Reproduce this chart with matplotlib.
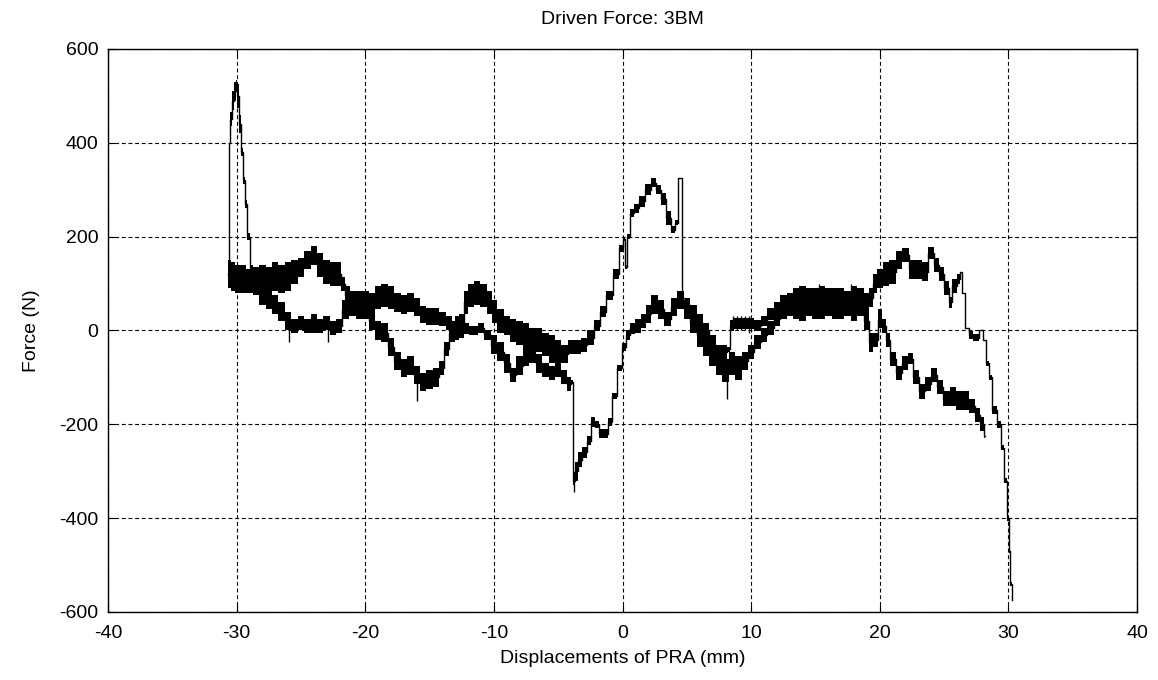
import numpy as np
import matplotlib
matplotlib.use("Agg")
import matplotlib.pyplot as plt

plt.rcParams['font.family'] = ['Liberation Sans', 'DejaVu Sans']
plt.rcParams['axes.unicode_minus'] = False

# displacement (mm), mean force (N), half spread of the noise band (N)
# pass that starts at the -30 mm spike and ends at the +30 mm plunge
upper_pass = [
    (-30.65, 120, 0), (-30.6, 250, 0), (-30.55, 400, 0), (-30.45, 450, 15),
    (-30.3, 490, 20), (-30.15, 510, 20), (-30.0, 522, 12), (-29.9, 500, 25),
    (-29.75, 440, 20), (-29.6, 380, 8), (-29.45, 320, 8), (-29.3, 270, 8),
    (-29.1, 200, 8), (-28.9, 125, 15), (-28.5, 110, 25), (-28.0, 110, 30),
    (-27.5, 105, 30), (-27.0, 115, 30), (-26.5, 110, 30), (-26.0, 115, 30),
    (-25.5, 125, 25), (-25.0, 135, 20), (-24.5, 150, 20), (-24.0, 160, 20),
    (-23.5, 140, 25), (-23.0, 125, 25), (-22.5, 120, 25), (-22.0, 120, 25),
    (-21.7, 100, 15), (-21.4, 75, 20), (-21.0, 60, 25), (-20.5, 55, 30),
    (-20.0, 60, 25), (-19.5, 60, 20), (-19.0, 70, 25), (-18.5, 75, 25),
    (-18.0, 70, 25), (-17.5, 60, 20), (-17.0, 55, 20), (-16.5, 60, 20),
    (-16.0, 50, 20), (-15.5, 35, 18), (-15.0, 30, 18), (-14.5, 30, 18),
    (-14.0, 25, 15), (-13.5, 15, 15), (-13.0, 0, 20), (-12.5, 10, 25),
    (-12.2, 60, 25), (-11.8, 75, 25), (-11.3, 80, 25), (-10.8, 75, 25),
    (-10.3, 60, 25), (-10.0, 40, 25), (-9.5, 20, 25), (-9.0, 10, 20),
    (-8.5, 0, 25), (-8.0, -5, 25), (-7.5, -10, 25), (-7.0, -15, 20),
    (-6.5, -20, 25), (-6.0, -30, 25), (-5.5, -40, 30), (-5.0, -45, 25),
    (-4.5, -50, 20), (-4.0, -35, 15), (-3.5, -35, 15), (-3.0, -30, 15),
    (-2.5, -15, 15), (-2.0, 10, 12), (-1.5, 40, 12), (-1.0, 75, 10),
    (-0.5, 120, 10), (-0.1, 175, 8), (0.1, 195, 5), (0.25, 135, 5),
    (0.45, 200, 5), (0.75, 250, 8), (1.0, 260, 10), (1.5, 275, 12),
    (2.0, 300, 12), (2.4, 315, 10), (2.8, 300, 10), (3.2, 280, 12),
    (3.6, 240, 15), (4.0, 215, 8), (4.2, 230, 5), (4.35, 325, 0),
    (4.6, 325, 0), (4.65, 70, 0), (5.0, 55, 15), (5.5, 35, 20),
    (6.0, 15, 20), (6.5, 0, 15), (7.0, -30, 20), (7.5, -50, 20),
    (8.0, -45, 15), (8.3, -40, 5), (8.4, 10, 12), (9.0, 15, 12),
    (9.5, 15, 12), (10.0, 15, 12), (10.5, 10, 12), (11.0, 20, 10),
    (11.5, 35, 12), (12.0, 45, 15), (12.5, 55, 20), (13.0, 55, 25),
    (13.5, 60, 30), (14.0, 65, 30), (14.5, 60, 30), (15.0, 55, 30),
    (15.5, 65, 30), (16.0, 60, 30), (16.5, 55, 30), (17.0, 60, 30),
    (17.5, 55, 25), (18.0, 65, 30), (18.5, 60, 30), (19.0, 55, 25),
    (19.3, 70, 20), (19.6, 100, 20), (20.0, 110, 20), (20.5, 120, 25),
    (21.0, 125, 25), (21.5, 150, 20), (22.0, 160, 15), (22.5, 130, 20),
    (23.0, 130, 20), (23.5, 125, 20), (24.0, 165, 12), (24.4, 140, 15),
    (24.8, 120, 15), (25.2, 90, 15), (25.5, 60, 12), (25.8, 95, 15),
    (26.2, 110, 10), (26.3, 124, 0), (26.5, 80, 0), (26.8, 5, 0),
    (27.0, -10, 8), (27.5, -15, 8), (28.0, 0, 0), (28.1, -20, 0),
    (28.4, -70, 5), (28.6, -100, 5), (28.9, -170, 8), (29.3, -200, 8),
    (29.5, -250, 5), (29.75, -320, 5), (30.0, -400, 5), (30.1, -470, 5),
    (30.2, -540, 5), (30.3, -575, 0),
]

# return pass, from the left end to where it stops near +28 mm
lower_pass = [
    (-30.65, 120, 30), (-30.3, 115, 30), (-30.0, 110, 30), (-29.5, 110, 30),
    (-29.0, 105, 25), (-28.5, 100, 25), (-28.0, 80, 25), (-27.5, 70, 25),
    (-27.0, 55, 20), (-26.5, 40, 20), (-26.0, 20, 20), (-25.5, 10, 15),
    (-25.0, 15, 15), (-24.5, 10, 15), (-24.0, 15, 20), (-23.5, 10, 15),
    (-23.0, 15, 15), (-22.5, 5, 15), (-22.0, 10, 15), (-21.6, 45, 20),
    (-21.0, 55, 25), (-20.5, 50, 25), (-20.0, 45, 20), (-19.5, 20, 20),
    (-19.0, 0, 20), (-18.5, -5, 20), (-18.0, -35, 20), (-17.5, -65, 20),
    (-17.0, -80, 20), (-16.5, -75, 20), (-16.0, -95, 20), (-15.5, -110, 20),
    (-15.0, -105, 20), (-14.5, -100, 20), (-14.1, -80, 15), (-13.7, -40, 15),
    (-13.3, -5, 20), (-12.8, 10, 20), (-12.3, 5, 12), (-11.5, 0, 10),
    (-11.0, 5, 10), (-10.5, -10, 10), (-10.0, -30, 20), (-9.5, -45, 20),
    (-9.0, -70, 20), (-8.5, -95, 15), (-8.0, -75, 20), (-7.5, -55, 20),
    (-7.0, -50, 20), (-6.5, -70, 20), (-6.0, -85, 15), (-5.5, -90, 15),
    (-5.0, -85, 15), (-4.5, -100, 15), (-4.1, -115, 15), (-3.9, -110, 5),
    (-3.85, -320, 10), (-3.6, -300, 20), (-3.3, -275, 15), (-3.0, -260, 12),
    (-2.6, -235, 10), (-2.3, -195, 10), (-2.0, -200, 8), (-1.6, -220, 10),
    (-1.3, -220, 10), (-1.0, -195, 8), (-0.6, -140, 6), (-0.2, -80, 6),
    (0.1, -35, 8), (0.4, -10, 10), (0.8, 5, 12), (1.2, 10, 15),
    (1.6, 20, 15), (2.0, 35, 20), (2.5, 55, 20), (3.0, 45, 20),
    (3.5, 25, 15), (4.0, 50, 20), (4.5, 65, 20), (5.0, 45, 20),
    (5.5, 15, 20), (6.0, -10, 25), (6.5, -30, 25), (7.0, -50, 25),
    (7.5, -70, 25), (8.0, -85, 25), (8.5, -70, 25), (9.0, -80, 25),
    (9.5, -65, 20), (10.0, -45, 15), (10.5, -25, 15), (11.0, -10, 15),
    (11.5, 5, 15), (12.0, 25, 15), (12.5, 40, 15), (13.0, 50, 20),
    (13.5, 50, 25), (14.0, 45, 25), (14.5, 60, 25), (15.0, 65, 25),
    (15.5, 50, 25), (16.0, 55, 25), (16.5, 65, 25), (17.0, 50, 25),
    (17.5, 60, 25), (18.0, 45, 25), (18.5, 55, 25), (19.0, 20, 20),
    (19.3, -25, 20), (19.7, -20, 15), (20.0, 25, 20), (20.3, 10, 15),
    (20.6, -20, 15), (21.0, -60, 15), (21.5, -90, 15), (22.0, -70, 15),
    (22.4, -60, 12), (22.8, -100, 15), (23.3, -130, 15), (23.8, -115, 15),
    (24.2, -95, 15), (24.7, -120, 15), (25.2, -145, 15), (25.7, -140, 20),
    (26.2, -150, 20), (26.7, -150, 20), (27.2, -160, 15), (27.6, -180, 15),
    (28.0, -200, 15), (28.2, -225, 5),
]

# isolated single-sample spikes: x, low, high
spikes = [
    (-25.9, -25, 10), (-22.9, -25, 10), (-16.0, -150, -100), (-3.8, -345, -300),
    (8.1, -147, -90), (8.6, 0, 30), (8.9, 0, 30), (9.2, 0, 30),
    (9.5, 0, 30), (9.8, -5, 30), (15.3, 60, 100), (17.8, 60, 100),
]

fig = plt.figure(figsize=(11.58, 6.8), dpi=100)
ax = fig.add_axes([0.0933, 0.1, 0.8886, 0.828])

for rows in (upper_pass, lower_pass):
    x, y, w = np.array(rows, dtype=float).T
    ax.fill_between(x, y - w, y + w, step='mid', color='k', lw=0)
    ax.plot(x, y, color='k', lw=1.0, drawstyle='steps-mid')

for sx, lo, hi in spikes:
    ax.vlines(sx, lo, hi, color='k', lw=1.0)

ax.set_xlim(-40, 40)
ax.set_ylim(-600, 600)
ax.set_xticks(np.arange(-40, 41, 10))
ax.set_yticks(np.arange(-600, 601, 200))
ax.grid(True, color='k', linestyle=(0, (3.5, 2.5)), linewidth=0.8)
ax.tick_params(direction='in', top=True, right=True, length=5, labelsize=14)
ax.tick_params(axis='x', pad=9)
ax.tick_params(axis='y', pad=7)
for s in ax.spines.values():
    s.set_linewidth(1.0)

ax.set_title('Driven Force: 3BM', fontsize=14, pad=18)
ax.set_xlabel('Displacements of PRA (mm)', fontsize=14, labelpad=6)
ax.set_ylabel('Force (N)', fontsize=14, labelpad=14)

fig.savefig('out.png', dpi=100)
